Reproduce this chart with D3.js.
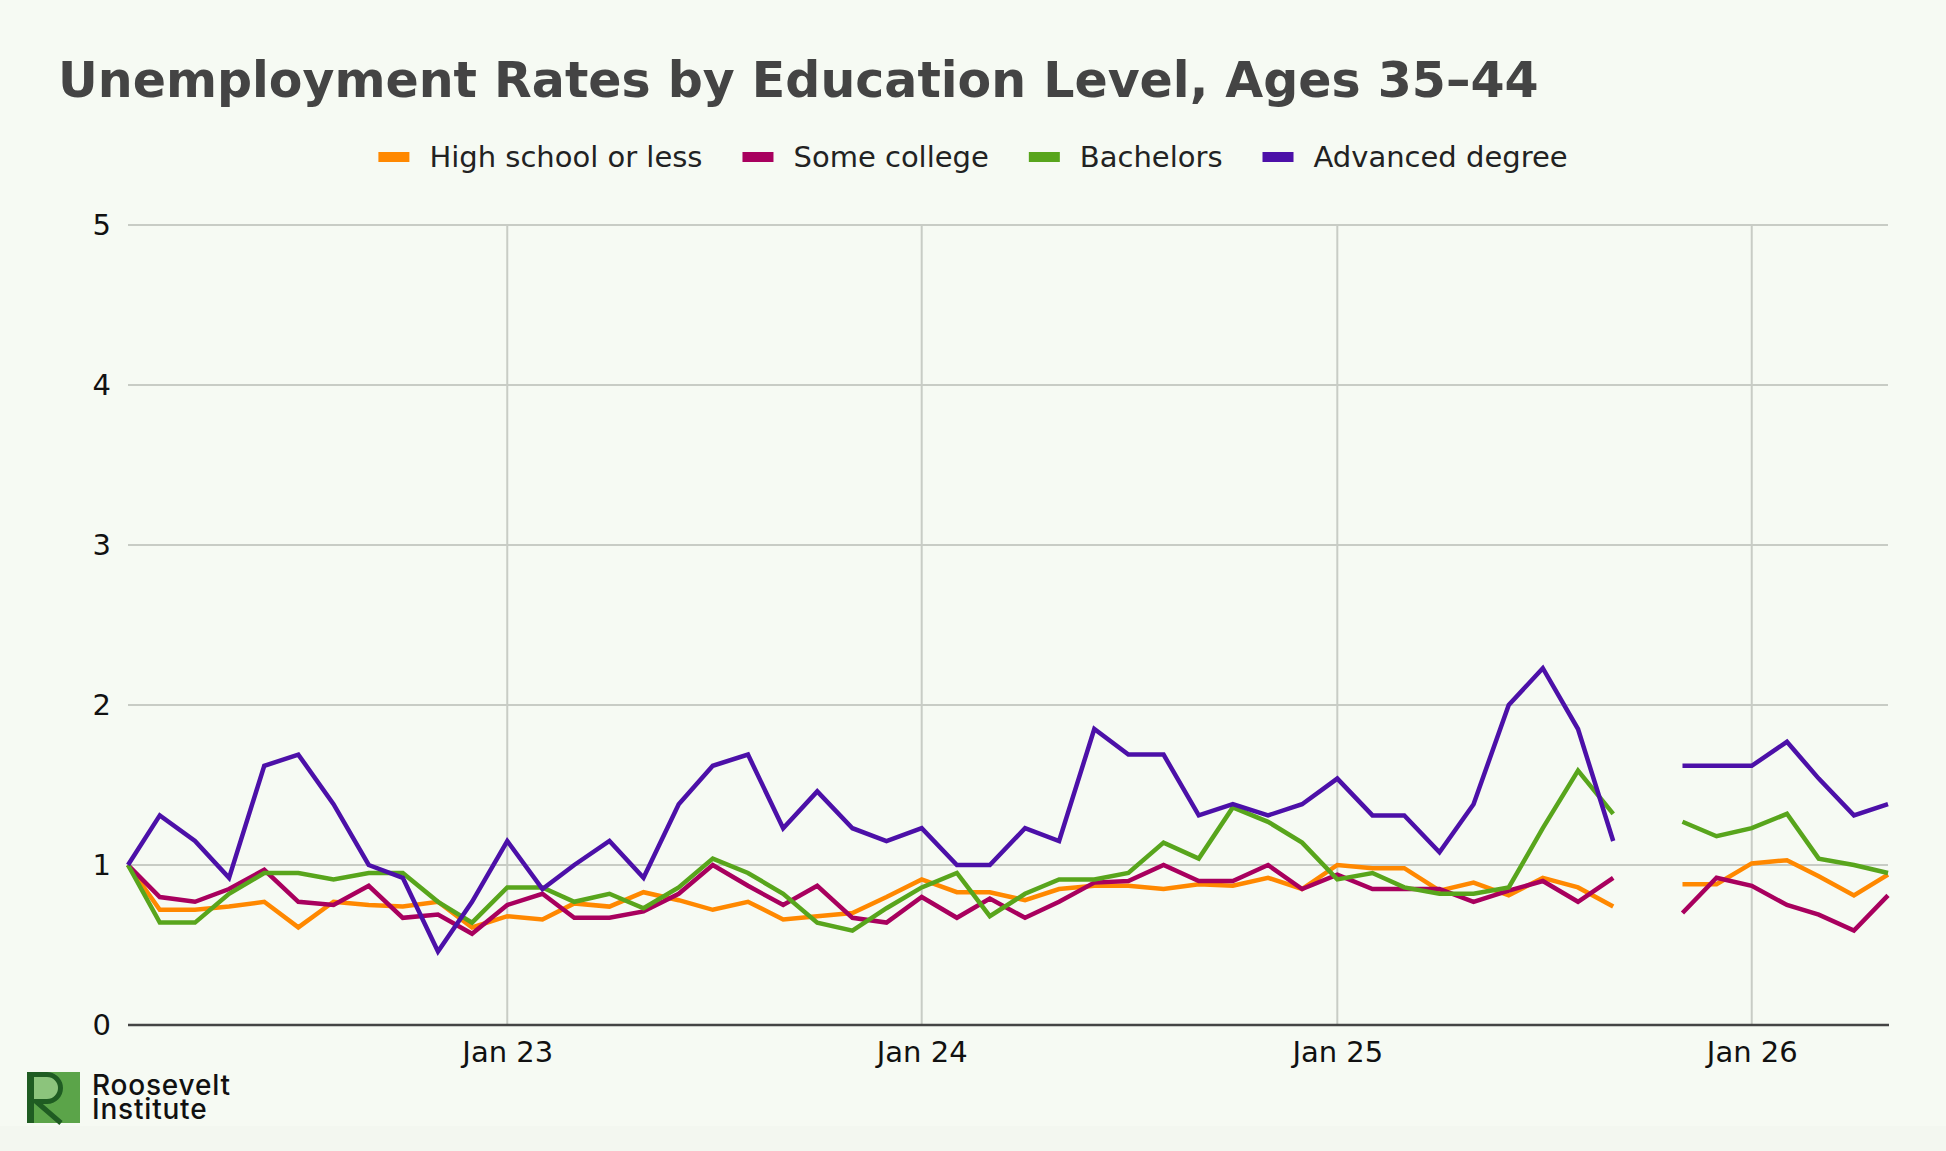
<!DOCTYPE html>
<html>
<head>
<meta charset="utf-8">
<script src="https://d3js.org/d3.v7.min.js"></script>
<style>
  body { margin: 0; background: #f6faf3; }
  svg { display: block; font-family: "DejaVu Sans", Verdana, sans-serif; }
</style>
</head>
<body>
<svg width="1946" height="1151"></svg>
<script>
// monthly points, Feb 2022 .. May 2026 (Oct 2025 missing)
var months = [
  '2022-02', '2022-03', '2022-04', '2022-05', '2022-06', '2022-07', '2022-08', '2022-09', '2022-10', '2022-11', '2022-12',
  '2023-01', '2023-02', '2023-03', '2023-04', '2023-05', '2023-06', '2023-07', '2023-08', '2023-09', '2023-10', '2023-11', '2023-12',
  '2024-01', '2024-02', '2024-03', '2024-04', '2024-05', '2024-06', '2024-07', '2024-08', '2024-09', '2024-10', '2024-11', '2024-12',
  '2025-01', '2025-02', '2025-03', '2025-04', '2025-05', '2025-06', '2025-07', '2025-08', '2025-09', '2025-10', '2025-11', '2025-12',
  '2026-01', '2026-02', '2026-03', '2026-04', '2026-05'
]

var highSchool = [
  1.0, 0.72, 0.72, 0.74, 0.77, 0.61, 0.77, 0.75, 0.74, 0.77, 0.61,
  0.68, 0.66, 0.76, 0.74, 0.83, 0.78, 0.72, 0.77, 0.66, 0.68, 0.70, 0.80,
  0.91, 0.83, 0.83, 0.78, 0.85, 0.87, 0.87, 0.85, 0.88, 0.87, 0.92, 0.85,
  1.0, 0.98, 0.98, 0.84, 0.89, 0.81, 0.92, 0.86, 0.74, null, 0.88, 0.88,
  1.01, 1.03, 0.93, 0.81, 0.94
]
var someCollege = [
  1.0, 0.80, 0.77, 0.85, 0.97, 0.77, 0.75, 0.87, 0.67, 0.69, 0.57,
  0.75, 0.82, 0.67, 0.67, 0.71, 0.82, 1.0, 0.87, 0.75, 0.87, 0.67, 0.64,
  0.80, 0.67, 0.79, 0.67, 0.77, 0.89, 0.90, 1.0, 0.90, 0.90, 1.0, 0.85,
  0.94, 0.85, 0.85, 0.85, 0.77, 0.84, 0.90, 0.77, 0.92, null, 0.70, 0.92,
  0.87, 0.75, 0.69, 0.59, 0.81
]
var bachelors = [
  1.0, 0.64, 0.64, 0.82, 0.95, 0.95, 0.91, 0.95, 0.95, 0.77, 0.64,
  0.86, 0.86, 0.77, 0.82, 0.73, 0.86, 1.04, 0.95, 0.82, 0.64, 0.59, 0.73,
  0.86, 0.95, 0.68, 0.82, 0.91, 0.91, 0.95, 1.14, 1.04, 1.36, 1.27, 1.14,
  0.91, 0.95, 0.86, 0.82, 0.82, 0.86, 1.23, 1.59, 1.32, null, 1.27, 1.18,
  1.23, 1.32, 1.04, 1.0, 0.95
]
var advanced = [
  1.0, 1.31, 1.15, 0.92, 1.62, 1.69, 1.38, 1.0, 0.92, 0.46, 0.77,
  1.15, 0.85, 1.0, 1.15, 0.92, 1.38, 1.62, 1.69, 1.23, 1.46, 1.23, 1.15,
  1.23, 1.0, 1.0, 1.23, 1.15, 1.85, 1.69, 1.69, 1.31, 1.38, 1.31, 1.38,
  1.54, 1.31, 1.31, 1.08, 1.38, 2.0, 2.23, 1.85, 1.15, null, 1.62, 1.62,
  1.62, 1.77, 1.54, 1.31, 1.38
]

var seriesNames = ['High school or less', 'Some college', 'Bachelors', 'Advanced degree']
var seriesValues = [highSchool, someCollege, bachelors, advanced]
var colors = ['#ff8800', '#a8005e', '#58a51c', '#4c10a8']
var yTicks = [0, 1, 2, 3, 4, 5]
var xTicks = ['2023-01', '2024-01', '2025-01', '2026-01']

var parse = d3.timeParse('%Y-%m')
var dates = months.map(parse)

var margin = {top: 225, right: 58, bottom: 126, left: 128}
var width = 1946 - margin.left - margin.right
var height = 1151 - margin.top - margin.bottom

var svg = d3.select('svg')

// faint strip at the very bottom
svg.append('rect').attr('x', 0).attr('y', 1126).attr('width', 1946).attr('height', 25).attr('fill', '#f3f7f0')

var x = d3.scaleTime().domain(d3.extent(dates)).range([0, width])
var y = d3.scaleLinear().domain([0, 5]).range([height, 0])

svg.append('text')
  .attr('x', 58).attr('y', 97)
  .attr('font-size', 49).attr('font-weight', 'bold')
  .attr('fill', '#444')
  .text('Unemployment Rates by Education Level, Ages 35\u201344')

var g = svg.append('g')
  .attr('transform', 'translate(' + margin.left + ',' + margin.top + ')')

// grid
g.append('g').selectAll('line')
  .data(yTicks.filter(function (d) { return d > 0 }))
  .enter().append('line')
  .attr('x1', 0).attr('x2', width)
  .attr('y1', function (d) { return y(d) }).attr('y2', function (d) { return y(d) })
  .attr('stroke', '#c8ccc5').attr('stroke-width', 2)

g.append('g').selectAll('line')
  .data(xTicks.map(parse))
  .enter().append('line')
  .attr('x1', function (d) { return x(d) }).attr('x2', function (d) { return x(d) })
  .attr('y1', 0).attr('y2', height)
  .attr('stroke', '#c8ccc5').attr('stroke-width', 2)

// axes
var yAxis = g.append('g')
  .call(d3.axisLeft(y).tickValues(yTicks).tickSize(0).tickPadding(17).tickFormat(d3.format('d')))
yAxis.select('.domain').remove()
yAxis.selectAll('text').attr('font-size', 29).attr('font-family', 'DejaVu Sans').attr('fill', '#111')

var xAxis = g.append('g')
  .attr('transform', 'translate(0,' + height + ')')
  .call(d3.axisBottom(x).tickValues(xTicks.map(parse)).tickSize(0).tickFormat(d3.timeFormat('%b %y')))
xAxis.select('.domain').remove()
xAxis.selectAll('text')
  .attr('y', 37).attr('dy', 0)
  .attr('font-size', 29).attr('font-family', 'DejaVu Sans').attr('fill', '#111')

g.append('line')
  .attr('x1', 0).attr('x2', width + 1)
  .attr('y1', height).attr('y2', height)
  .attr('stroke', '#444').attr('stroke-width', 2.5)

// lines
var line = d3.line()
  .defined(function (d) { return d != null })
  .x(function (d, i) { return x(dates[i]) })
  .y(function (d) { return y(d) })

g.selectAll('.series')
  .data(seriesValues)
  .enter().append('path')
  .attr('class', 'series')
  .attr('fill', 'none')
  .attr('stroke', function (d, i) { return colors[i] })
  .attr('stroke-width', 4.5)
  .attr('d', line)

// legend, centred
var legend = svg.append('g')
var xpos = 0
seriesNames.forEach(function (name, i) {
  var item = legend.append('g').attr('transform', 'translate(' + xpos + ',0)')
  item.append('rect')
    .attr('x', 0).attr('y', 152).attr('width', 31).attr('height', 10)
    .attr('fill', colors[i])
  var t = item.append('text')
    .attr('x', 51).attr('y', 166.5)
    .attr('font-size', 29).attr('fill', '#222')
    .text(name)
  xpos += 51 + t.node().getComputedTextLength() + 40
})
var legendWidth = xpos - 40
legend.attr('transform', 'translate(' + (973 - legendWidth / 2) + ',0)')

// logo
var logo = svg.append('g').attr('transform', 'translate(27,1072)')
logo.append('rect').attr('width', 53).attr('height', 51).attr('fill', '#5ba449')
logo.append('path')
  .attr('d', 'M7,0 H20 A15,15 0 0 1 20,31 H7 Z')
  .attr('fill', '#8cc47c')
logo.append('rect').attr('width', 7).attr('height', 51).attr('fill', '#1f5c22')
logo.append('path')
  .attr('d', 'M7,2.5 H20 A13.5,13.5 0 0 1 20,29.5 H9 L34,51')
  .attr('fill', 'none').attr('stroke', '#1f5c22').attr('stroke-width', 5)

var brand = svg.append('text')
  .attr('font-family', 'Inter, "Noto Sans", sans-serif').attr('font-weight', 500)
  .attr('font-size', 28).attr('letter-spacing', 0.8).attr('fill', '#111')
brand.append('tspan').attr('x', 92).attr('y', 1095).text('Roosevelt')
brand.append('tspan').attr('x', 92).attr('y', 1119).text('Institute')
</script>
</body>
</html>
